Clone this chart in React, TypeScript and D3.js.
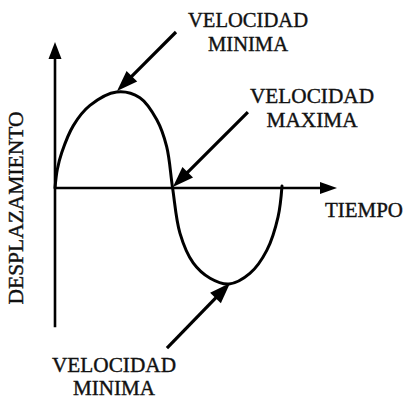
import React from "react";
import * as d3 from "d3";

// Curve samples (time fraction, normalized displacement)
const timeValues = [0, 0.008, 0.024, 0.065, 0.124, 0.219, 0.301, 0.361, 0.396, 0.417, 0.443, 0.49, 0.55, 0.617, 0.691, 0.751, 0.791, 0.805];
const displacementValues = [0, 0.19, 0.37, 0.65, 0.86, 1.0, 0.94, 0.71, 0.43, 0, -0.47, -0.78, -0.94, -1.0, -0.89, -0.65, -0.3, 0.02];

// Annotation arrows (data coords): tail -> tip
const arrowTailT = [0.429, 0.684, 0.397];
const arrowTailV = [1.625, 0.79, -1.667];
const arrowTipT = [0.22, 0.418, 0.621];
const arrowTipV = [1.01, 0.01, -0.99];

const labelLines = [
  ["VELOCIDAD", "MINIMA"],
  ["VELOCIDAD", "MAXIMA"],
  ["VELOCIDAD", "MINIMA"],
];
const xAxisLabel = "TIEMPO";
const yAxisLabel = "DESPLAZAMIENTO";

const W = 406;
const H = 400;
const FONT = "'Liberation Serif', 'Times New Roman', serif";

export default function App() {
  const x = d3.scaleLinear().domain([0, 1]).range([55, 337]);
  const y = d3.scaleLinear().domain([-1, 1]).range([284, 92]);

  const pts: [number, number][] = timeValues.map((t, i) => [x(t), y(displacementValues[i])]);
  const line = d3.line().curve(d3.curveCatmullRom.alpha(0.5))(pts) || "";

  const arrowHead = (x1: number, y1: number, x2: number, y2: number, len: number, hw: number) => {
    const ang = Math.atan2(y2 - y1, x2 - x1);
    const bx = x2 - len * Math.cos(ang);
    const by = y2 - len * Math.sin(ang);
    const px = -Math.sin(ang) * hw;
    const py = Math.cos(ang) * hw;
    return `M${x2},${y2}L${bx + px},${by + py}L${bx - px},${by - py}Z`;
  };
  const shaftEnd = (x1: number, y1: number, x2: number, y2: number, len: number) => {
    const ang = Math.atan2(y2 - y1, x2 - x1);
    return [x2 - len * Math.cos(ang), y2 - len * Math.sin(ang)];
  };

  const x0 = x(0);
  const yZero = y(0);
  const yTop = y(1.52);
  const yBottom = y(-1.45);
  const xEnd = x(1);

  const labelPos = [
    { cx: 248, y1: 27, y2: 51, w1: 120, w2: 80 },
    { cx: 312, y1: 103, y2: 127, w1: 124, w2: 91 },
    { cx: 114, y1: 372, y2: 395, w1: 124, w2: 82 },
  ];

  const textStyle = { fontFamily: FONT, fontSize: 22, fill: "#111", stroke: "#111", strokeWidth: 0.4 } as const;

  return (
    <svg width={W} height={H} style={{ position: "absolute", left: 0, top: 0, background: "#fff" }}>
      <rect x={0} y={0} width={W} height={H} fill="#fff" />
      {/* axes */}
      <line x1={x0} y1={yBottom} x2={x0} y2={yTop + 12} stroke="#000" strokeWidth={2.6} />
      <path d={arrowHead(x0, yBottom, x0, yTop, 17, 6.5)} fill="#000" />
      <line x1={x0} y1={yZero} x2={xEnd - 12} y2={yZero} stroke="#000" strokeWidth={2.6} />
      <path d={arrowHead(x0, yZero, xEnd, yZero, 17, 6)} fill="#000" />

      {/* curve */}
      <path d={line} fill="none" stroke="#000" strokeWidth={3} strokeLinejoin="round" strokeLinecap="round" />

      {/* arrows */}
      {arrowTipT.map((t, i) => {
        const x1 = x(arrowTailT[i]);
        const y1 = y(arrowTailV[i]);
        const x2 = x(t);
        const y2 = y(arrowTipV[i]);
        const [sx, sy] = shaftEnd(x1, y1, x2, y2, 14);
        return (
          <g key={i}>
            <line x1={x1} y1={y1} x2={sx} y2={sy} stroke="#000" strokeWidth={3.2} />
            <path d={arrowHead(x1, y1, x2, y2, 21, 7.5)} fill="#000" />
          </g>
        );
      })}

      {/* labels */}
      {labelLines.map((lines, i) => (
        <g key={i} textAnchor="middle">
          <text x={labelPos[i].cx} y={labelPos[i].y1} {...textStyle} textLength={labelPos[i].w1} lengthAdjust="spacingAndGlyphs">{lines[0]}</text>
          <text x={labelPos[i].cx} y={labelPos[i].y2} {...textStyle} textLength={labelPos[i].w2} lengthAdjust="spacingAndGlyphs">{lines[1]}</text>
        </g>
      ))}
      <text x={325} y={217} {...textStyle} textLength={78} lengthAdjust="spacingAndGlyphs">{xAxisLabel}</text>
      <text
        transform={`translate(23,208) rotate(-90)`}
        textAnchor="middle"
        {...textStyle}
        fontSize={20}
        textLength={193}
        lengthAdjust="spacingAndGlyphs"
      >
        {yAxisLabel}
      </text>
    </svg>
  );
}
